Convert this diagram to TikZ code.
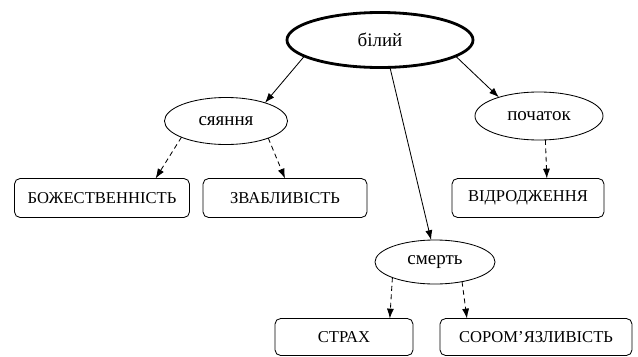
\documentclass[tikz,border=0pt]{standalone}
\usepackage{fontspec}
\setmainfont{Liberation Serif}
\usepackage{tikz}
\usetikzlibrary{arrows,arrows.meta,shapes}
\usepackage{tkz-graph}

\begin{document}
\begin{tikzpicture}[x=0.025cm,y=-0.025cm]
    \GraphInit[vstyle=Normal]
    \tikzset{
      VertexStyle/.style={draw,black,fill=white,inner sep=0pt,outer sep=0pt},
      Concept/.style={shape=ellipse,line width=.6pt,font=\fontsize{13.5}{16}\selectfont},
      Quality/.style={shape=rectangle,rounded corners=4pt,line width=.6pt,
        font=\fontsize{11.8}{14}\selectfont},
      EdgeStyle/.style={draw,black,line width=.6pt,-{Latex[length=7pt,width=5pt]}},
      LabelStyle/.style={},
      Weak/.style={dash pattern=on 3.5pt off 2.5pt}
    }
    \useasboundingbox (0,0) rectangle (638,356);
    \Vertex[x=380,y=40,L=білий,style={Concept,line width=2pt,minimum width=4.65cm,minimum height=1.375cm}]{v1}
    \Vertex[x=226,y=121,L=сяяння,style={Concept,minimum width=3.075cm,minimum height=1.175cm}]{v2}
    \Vertex[x=539,y=116,L=початок,style={Concept,minimum width=3.2cm,minimum height=1.2cm}]{v3}
    \Vertex[x=435,y=262,L=смерть,style={Concept,minimum width=3cm,minimum height=1.1cm}]{v4}
    \Vertex[x=102,y=198,L=БОЖЕСТВЕННІСТЬ,style={Quality,minimum width=4.375cm,minimum height=.975cm}]{v5}
    \Vertex[x=285,y=198,L=ЗВАБЛИВІСТЬ,style={Quality,minimum width=4.1cm,minimum height=.975cm}]{v6}
    \Vertex[x=528,y=198,L=ВІДРОДЖЕННЯ,style={Quality,minimum width=3.8cm,minimum height=.975cm}]{v7}
    \Vertex[x=344,y=337,L=СТРАХ,style={Quality,minimum width=3.45cm,minimum height=.925cm}]{v8}
    \Vertex[x=536,y=337,L=СОРОМ’ЯЗЛИВІСТЬ,style={Quality,minimum width=4.8cm,minimum height=.925cm}]{v9}

    \Edge(v1.192)(v2.25)
    \Edge(v1.348)(v3.155)
    \Edge(v1.290)(v4.100)
    \Edge[style={Weak}](v2.200)(v5.20)
    \Edge[style={Weak}](v2.338)(v6.north)
    \Edge[style={Weak}](v3.285)(v7.46)
    \Edge[style={Weak}](v4.200)(v8.22)
    \Edge[style={Weak}](v4.324)(v9.165)
\end{tikzpicture}
\end{document}
